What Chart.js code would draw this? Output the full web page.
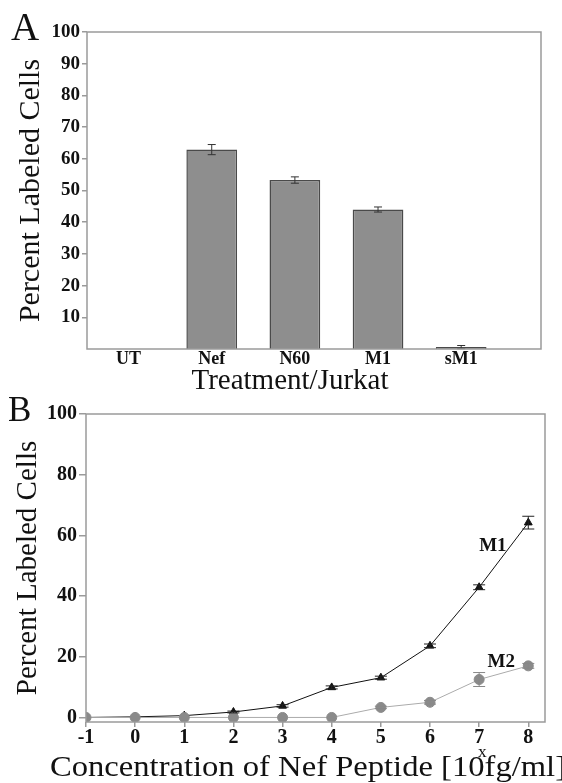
<!DOCTYPE html>
<html>
<head>
<meta charset="utf-8">
<script src="https://cdn.jsdelivr.net/npm/chart.js@4.4.0/dist/chart.umd.min.js"></script>
<style>
  html, body { margin: 0; padding: 0; background: #fff; }
  #wrapA { position: absolute; left: 0; top: 0; width: 562px; height: 394px; }
  #wrapB { position: absolute; left: 0; top: 390px; width: 562px; height: 393px; }
</style>
</head>
<body>
<div id="wrapA"><canvas id="chartA"></canvas></div>
<div id="wrapB"><canvas id="chartB"></canvas></div>
<script>
// Panel A - treatment / Jurkat
const treatments = ["UT", "Nef", "N60", "M1", "sM1"];
const treatmentPos = [1, 2, 3, 4, 5];
const percentA = [null, 62.9, 53.3, 44.0, 0.6];
const errorA = [0, 1.6, 1.0, 0.8, 0.5];
const yTicksA = [10, 20, 30, 40, 50, 60, 70, 80, 90, 100];

// Panel B - Nef peptide concentration series
const concentration = [-1, 0, 1, 2, 3, 4, 5, 6, 7, 8];
const m1Values = [0, 0.2, 0.6, 1.8, 3.8, 9.9, 13.1, 23.6, 42.9, 64.2];
const m1Errors = [0, 0, 0, 0.3, 0.4, 0.5, 0.5, 0.6, 0.8, 2.1];
const m2Values = [0, 0, 0, 0, 0, 0, 3.3, 5.0, 12.5, 17.0];
const m2Errors = [0, 0, 0, 0, 0, 0, 0.4, 0.6, 2.3, 0.8];
const yTicksB = [0, 20, 40, 60, 80, 100];
const xTicksB = [-1, 0, 1, 2, 3, 4, 5, 6, 7, 8];

const SERIF = '"Liberation Serif", "Times New Roman", serif';
const FRAME = "#9a9a9a";

// draws the gray box around the plot area
const framePlugin = {
  id: "frame",
  afterDraw(chart) {
    const { ctx, chartArea: a } = chart;
    ctx.save();
    ctx.strokeStyle = FRAME;
    ctx.lineWidth = 1.5;
    ctx.strokeRect(a.left, a.top, a.right - a.left, a.bottom - a.top);
    ctx.restore();
  }
};

// vertical error bars with caps
const errorBarPlugin = {
  id: "errorBars",
  afterDatasetsDraw(chart, args, opts) {
    const { ctx } = chart;
    const xs = chart.scales.x, ys = chart.scales.y;
    (opts.sets || []).forEach(set => {
      ctx.save();
      ctx.strokeStyle = set.color;
      ctx.lineWidth = 1;
      set.x.forEach((xv, i) => {
        const v = set.y[i], e = set.err[i];
        if (v == null || !e) return;
        const px = xs.getPixelForValue(xv);
        const top = ys.getPixelForValue(v + e);
        const bot = ys.getPixelForValue(Math.max(v - e, ys.min));
        ctx.beginPath();
        ctx.moveTo(px, top); ctx.lineTo(px, bot);
        ctx.moveTo(px - set.cap, top); ctx.lineTo(px + set.cap, top);
        ctx.moveTo(px - set.cap, bot); ctx.lineTo(px + set.cap, bot);
        ctx.stroke();
      });
      ctx.restore();
    });
  }
};

// free text (panel letter, axis titles, series labels)
const textPlugin = {
  id: "texts",
  afterDraw(chart, args, opts) {
    const { ctx } = chart;
    (opts.items || []).forEach(t => {
      ctx.save();
      ctx.font = t.font;
      ctx.fillStyle = "#111";
      ctx.textAlign = t.align || "left";
      ctx.textBaseline = t.baseline || "alphabetic";
      let x = t.x, y = t.y;
      if (t.data) {
        x = chart.scales.x.getPixelForValue(t.data[0]);
        y = chart.scales.y.getPixelForValue(t.data[1]);
      }
      if (t.parts) {
        // measure, then stretch horizontally to the wanted width
        let total = 0;
        t.parts.forEach(p => {
          ctx.font = p.font || t.font;
          total += ctx.measureText(p.text).width + (p.advance || 0);
        });
        ctx.translate(x, y);
        ctx.scale(t.fitWidth ? t.fitWidth / total : 1, 1);
        let cx = 0;
        t.parts.forEach(p => {
          ctx.font = p.font || t.font;
          ctx.fillText(p.text, cx + (p.dx || 0), p.dy || 0);
          cx += ctx.measureText(p.text).width + (p.advance || 0);
        });
      } else {
        ctx.fillText(t.text, x, y);
      }
      ctx.restore();
    });
  }
};

// ---- Panel A ----
new Chart(document.getElementById("chartA"), {
  type: "bar",
  data: {
    datasets: [{
      data: treatmentPos.map((x, i) => ({ x: x, y: percentA[i] })),
      backgroundColor: "#8e8e8e",
      borderColor: "#4a4a4a",
      borderWidth: 1.5,
      borderSkipped: "bottom",
      categoryPercentage: 1,
      barPercentage: 0.61
    }]
  },
  options: {
    responsive: true,
    maintainAspectRatio: false,
    animation: false,
    layout: { padding: { left: 0, top: 32, right: 21, bottom: 5 } },
    plugins: {
      legend: { display: false },
      tooltip: { enabled: false },
      errorBars: {
        sets: [{ x: treatmentPos, y: percentA, err: errorA, color: "#333", cap: 4 }]
      },
      texts: {
        items: [
          { text: "A", x: 11, y: 40, font: "39px " + SERIF },
          { text: "Treatment/Jurkat", x: 290, y: 389, align: "center", font: "29px " + SERIF }
        ]
      }
    },
    scales: {
      x: {
        type: "linear",
        min: 0.5,
        max: 5.96,
        offset: false,
        afterFit: s => { s.height = 40; },
        afterBuildTicks: s => { s.ticks = treatmentPos.map(v => ({ value: v })); },
        grid: { display: false, drawTicks: false },
        border: { display: false },
        ticks: {
          padding: 1,
          autoSkip: false,
          maxRotation: 0,
          color: "#111",
          font: { family: SERIF, size: 18, weight: "bold", lineHeight: 1 },
          callback: v => treatments[treatmentPos.indexOf(v)] || ""
        }
      },
      y: {
        min: 0,
        max: 100,
        afterFit: s => { s.width = 87; },
        afterBuildTicks: s => { s.ticks = yTicksA.map(v => ({ value: v })); },
        grid: { drawOnChartArea: false, drawTicks: true, tickLength: 5, color: FRAME, lineWidth: 1.5 },
        border: { display: false },
        ticks: {
          padding: 2,
          color: "#111",
          font: { family: SERIF, size: 19, weight: "bold", lineHeight: 1 }
        },
        title: {
          display: true,
          text: "Percent Labeled Cells",
          color: "#111",
          padding: { top: 16, bottom: 0 },
          font: { family: SERIF, size: 30, lineHeight: 1 }
        }
      }
    }
  },
  plugins: [framePlugin, errorBarPlugin, textPlugin]
});

// ---- Panel B ----
new Chart(document.getElementById("chartB"), {
  type: "line",
  data: {
    datasets: [
      {
        label: "M2",
        data: concentration.map((x, i) => ({ x: x, y: m2Values[i] })),
        borderColor: "#ababab",
        borderWidth: 1,
        pointStyle: "circle",
        pointRadius: 5,
        pointBackgroundColor: "#8a8a8a",
        pointBorderColor: "#8a8a8a",
        tension: 0
      },
      {
        label: "M1",
        data: concentration.map((x, i) => ({ x: x, y: m1Values[i] })),
        borderColor: "#111",
        borderWidth: 1,
        pointStyle: "triangle",
        pointRadius: 4.5,
        pointBackgroundColor: "#111",
        pointBorderColor: "#111",
        tension: 0
      }
    ]
  },
  options: {
    responsive: true,
    maintainAspectRatio: false,
    animation: false,
    layout: { padding: { left: 0, top: 24, right: 17, bottom: 11 } },
    plugins: {
      legend: { display: false },
      tooltip: { enabled: false },
      errorBars: {
        sets: [
          { x: concentration, y: m1Values, err: m1Errors, color: "#222", cap: 6 },
          { x: concentration, y: m2Values, err: m2Errors, color: "#888", cap: 6 }
        ]
      },
      texts: {
        items: [
          { text: "B", x: 8, y: 31, font: "35px " + SERIF },
          { text: "M1", data: [7.28, 56.5], align: "center", baseline: "middle", font: "bold 19px " + SERIF },
          { text: "M2", data: [7.45, 18.3], align: "center", baseline: "middle", font: "bold 19px " + SERIF },
          {
            x: 50, y: 386, font: "30px " + SERIF, fitWidth: 516,
            parts: [
              { text: "Concentration of Nef Peptide [10", advance: 0 },
              { text: "x", font: "16px " + SERIF, dx: -6, dy: -19, advance: -8 },
              { text: "fg/ml]", font: "30px " + SERIF }
            ]
          }
        ]
      }
    },
    scales: {
      x: {
        type: "linear",
        min: -1,
        max: 8.34,
        afterFit: s => { s.height = 50; },
        afterBuildTicks: s => { s.ticks = xTicksB.map(v => ({ value: v })); },
        grid: { drawOnChartArea: false, drawTicks: true, tickLength: 5, color: FRAME, lineWidth: 1.5 },
        border: { display: false },
        ticks: {
          padding: 1,
          autoSkip: false,
          maxRotation: 0,
          color: "#111",
          font: { family: SERIF, size: 20, weight: "bold", lineHeight: 1 }
        }
      },
      y: {
        min: -1.5,
        max: 100,
        afterFit: s => { s.width = 86; },
        afterBuildTicks: s => { s.ticks = yTicksB.map(v => ({ value: v })); },
        grid: { drawOnChartArea: false, drawTicks: true, tickLength: 7, color: FRAME, lineWidth: 1.5 },
        border: { display: false },
        ticks: {
          padding: 2,
          color: "#111",
          font: { family: SERIF, size: 20, weight: "bold", lineHeight: 1 }
        },
        title: {
          display: true,
          text: "Percent Labeled Cells",
          color: "#111",
          padding: { top: 14, bottom: 0 },
          font: { family: SERIF, size: 29, lineHeight: 1 }
        }
      }
    }
  },
  plugins: [framePlugin, errorBarPlugin, textPlugin]
});
</script>
</body>
</html>
